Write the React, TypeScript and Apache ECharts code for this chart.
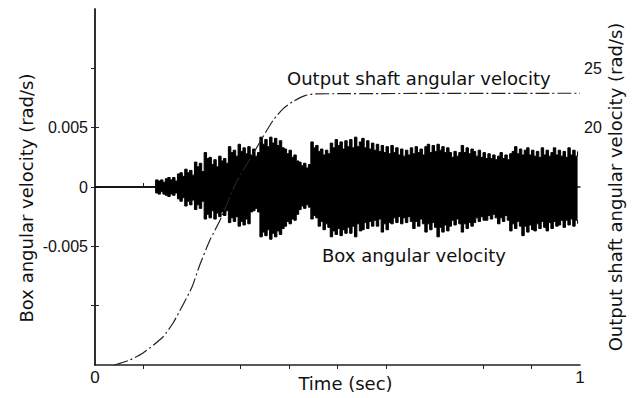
import React, { useEffect, useRef } from "react";
import * as echarts from "echarts";

// Box angular velocity (rad/s): oscillation envelope read every 0.005 s from t = 0.125 s
const BOX_T0 = 0.125;
const BOX_DT = 0.005;
const boxUpper = [
  0.0006, 0.0005, 0.0006, 0.0004, 0.0007, 0.0008, 0.0006, 0.0008, 0.0005, 0.0011,
  0.0012, 0.0009, 0.0015, 0.0012, 0.0014, 0.0010, 0.0021, 0.0017, 0.0020, 0.0013,
  0.0029, 0.0024, 0.0025, 0.0019, 0.0023, 0.0017, 0.0026, 0.0022, 0.0024, 0.0020,
  0.0034, 0.0029, 0.0031, 0.0026, 0.0036, 0.0030, 0.0033, 0.0028, 0.0034, 0.0027,
  0.0032, 0.0026, 0.0029, 0.0042, 0.0036, 0.0040, 0.0034, 0.0042, 0.0037, 0.0041,
  0.0035, 0.0039, 0.0033, 0.0032, 0.0028, 0.0031, 0.0025, 0.0027, 0.0022, 0.0021,
  0.0018, 0.0020, 0.0016, 0.0019, 0.0038, 0.0033, 0.0035, 0.0030, 0.0032, 0.0027,
  0.0031, 0.0028, 0.0037, 0.0033, 0.0040, 0.0035, 0.0038, 0.0032, 0.0039, 0.0034,
  0.0040, 0.0033, 0.0042, 0.0034, 0.0038, 0.0041, 0.0033, 0.0039, 0.0032, 0.0037,
  0.0031, 0.0036, 0.0030, 0.0035, 0.0029, 0.0034, 0.0028, 0.0035, 0.0029, 0.0033,
  0.0027, 0.0032, 0.0026, 0.0031, 0.0027, 0.0033, 0.0028, 0.0034, 0.0029, 0.0032,
  0.0027, 0.0034, 0.0036, 0.0029, 0.0035, 0.0030, 0.0036, 0.0031, 0.0034, 0.0029,
  0.0033, 0.0029, 0.0025, 0.0030, 0.0026, 0.0029, 0.0035, 0.0029, 0.0033, 0.0028,
  0.0032, 0.0030, 0.0026, 0.0031, 0.0025, 0.0029, 0.0024, 0.0028, 0.0024, 0.0027,
  0.0023, 0.0026, 0.0029, 0.0024, 0.0027, 0.0023, 0.0028, 0.0030, 0.0034, 0.0028,
  0.0032, 0.0027, 0.0031, 0.0033, 0.0027, 0.0031, 0.0026, 0.0030, 0.0025, 0.0033,
  0.0027, 0.0031, 0.0026, 0.0029, 0.0033, 0.0027, 0.0031, 0.0026, 0.0030, 0.0025,
  0.0033, 0.0027, 0.0031, 0.0026, 0.0030,
];
const boxLower = [
  -0.0005, -0.0006, -0.0004, -0.0006, -0.0007, -0.0008, -0.0006, -0.0007, -0.0005, -0.0010,
  -0.0012, -0.0009, -0.0016, -0.0012, -0.0015, -0.0011, -0.0019, -0.0015, -0.0018, -0.0012,
  -0.0027, -0.0023, -0.0026, -0.0020, -0.0027, -0.0022, -0.0025, -0.0021, -0.0024, -0.0020,
  -0.0030, -0.0026, -0.0029, -0.0025, -0.0033, -0.0029, -0.0032, -0.0027, -0.0031, -0.0021,
  -0.0020, -0.0018, -0.0021, -0.0042, -0.0038, -0.0041, -0.0036, -0.0044, -0.0039, -0.0042,
  -0.0037, -0.0040, -0.0035, -0.0033, -0.0029, -0.0031, -0.0027, -0.0028, -0.0023, -0.0019,
  -0.0016, -0.0018, -0.0015, -0.0017, -0.0027, -0.0024, -0.0026, -0.0033, -0.0029, -0.0036,
  -0.0031, -0.0034, -0.0042, -0.0037, -0.0040, -0.0035, -0.0041, -0.0036, -0.0039, -0.0034,
  -0.0039, -0.0033, -0.0042, -0.0031, -0.0037, -0.0036, -0.0030, -0.0035, -0.0029, -0.0033,
  -0.0028, -0.0033, -0.0027, -0.0038, -0.0031, -0.0036, -0.0030, -0.0031, -0.0026, -0.0030,
  -0.0025, -0.0031, -0.0026, -0.0030, -0.0025, -0.0029, -0.0035, -0.0029, -0.0033, -0.0027,
  -0.0031, -0.0038, -0.0031, -0.0036, -0.0030, -0.0034, -0.0042, -0.0034, -0.0038, -0.0032,
  -0.0037, -0.0033, -0.0028, -0.0032, -0.0027, -0.0031, -0.0038, -0.0031, -0.0035, -0.0030,
  -0.0033, -0.0030, -0.0026, -0.0029, -0.0025, -0.0028, -0.0028, -0.0024, -0.0027, -0.0023,
  -0.0026, -0.0031, -0.0026, -0.0029, -0.0024, -0.0028, -0.0037, -0.0031, -0.0035, -0.0029,
  -0.0033, -0.0041, -0.0033, -0.0038, -0.0032, -0.0036, -0.0037, -0.0031, -0.0035, -0.0029,
  -0.0034, -0.0037, -0.0030, -0.0035, -0.0029, -0.0033, -0.0032, -0.0028, -0.0034, -0.0028,
  -0.0032, -0.0027, -0.0033, -0.0028, -0.0031,
];

// Output shaft angular velocity (rad/s)
const shaftTime = [0.04, 0.047, 0.072, 0.099, 0.14, 0.161, 0.179, 0.2, 0.216, 0.237, 0.258, 0.29, 0.326, 0.346, 0.367, 0.388, 0.408, 0.433, 0.454, 1.0];
const shaftValue = [0, 0.08, 0.42, 1.01, 2.36, 3.54, 4.89, 6.57, 8.43, 10.53, 12.22, 15.3, 17.8, 19.2, 20.6, 21.6, 22.2, 22.7, 22.85, 22.9];

// Axis ticks and labels
const timeTicks = [0.1, 0.3, 0.4, 0.5, 0.6, 0.8, 0.9];
const timeLabels = [0, 1];
const boxTicks = [-0.01, -0.005, 0, 0.005];
const boxLabels = [-0.005, 0, 0.005];
const shaftTicks = [5, 10, 15, 20, 25];
const shaftLabels = [20, 25];

const TEXT_FONT = "DejaVu Sans";
const NUM_FONT = "Liberation Sans";
const INK = "#111";

export default function App() {
  const ref = useRef<HTMLDivElement>(null);

  useEffect(() => {
    if (!ref.current) return;
    const chart = echarts.init(ref.current, undefined, { renderer: "svg" });

    const boxTimes = boxUpper.map((_, i) => +(BOX_T0 + i * BOX_DT).toFixed(3));
    const upperData = [[0, 0], ...boxTimes.map((t, i) => [t, boxUpper[i]])];
    const lowerData = [[0, 0], ...boxTimes.map((t, i) => [t, boxLower[i]])];
    const shaftData = shaftTime.map((t, i) => [t, shaftValue[i]]);

    const axisLine = { show: true, lineStyle: { color: "#222", width: 1.5 } };

    chart.setOption({
      animation: false,
      backgroundColor: "#fff",
      grid: { left: 95, right: 54, top: 9, bottom: 33, containLabel: false, outerBoundsMode: "none" },
      xAxis: [
        {
          type: "value",
          min: 0,
          max: 1,
          interval: 0.1,
          position: "bottom",
          axisLine,
          axisTick: { show: true, inside: true, length: 4, customValues: timeTicks, lineStyle: { color: "#222" } },
          axisLabel: {
            customValues: timeLabels,
            formatter: (v: number) => (timeLabels.includes(v) ? String(v) : ""),
            fontFamily: NUM_FONT,
            fontSize: 17,
            color: INK,
            margin: 4,
          },
          splitLine: { show: false },
          name: "Time (sec)",
          nameLocation: "middle",
          nameGap: 9,
          nameMoveOverlap: false,
          nameTextStyle: { fontFamily: TEXT_FONT, fontSize: 18, color: INK, padding: [0, 0, 0, 16] },
        },
        {
          type: "value",
          min: 0,
          max: 1,
          interval: 0.1,
          position: "top",
          axisLine,
          axisTick: { show: true, inside: true, length: 4, customValues: timeTicks, lineStyle: { color: "#222" } },
          axisLabel: { show: false },
          splitLine: { show: false },
        },
      ],
      yAxis: [
        {
          type: "value",
          min: -0.015,
          max: 0.015,
          interval: 0.005,
          position: "left",
          axisLine,
          axisTick: { show: true, inside: true, length: 4, customValues: boxTicks, lineStyle: { color: "#222" } },
          axisLabel: {
            customValues: boxLabels,
            formatter: (v: number) => (boxLabels.some((b) => Math.abs(b - v) < 1e-9) ? String(v) : ""),
            fontFamily: NUM_FONT,
            fontSize: 16,
            color: INK,
            margin: 7,
          },
          splitLine: { show: false },
          name: "Box angular velocity (rad/s)",
          nameLocation: "middle",
          nameRotate: 90,
          nameGap: 60,
          nameMoveOverlap: false,
          nameTextStyle: { fontFamily: TEXT_FONT, fontSize: 18, color: INK, padding: [0, 22, 0, 0] },
        },
        {
          type: "value",
          min: 0,
          max: 30,
          interval: 5,
          position: "right",
          axisLine,
          axisTick: { show: true, inside: true, length: 4, customValues: shaftTicks, lineStyle: { color: "#222" } },
          axisLabel: {
            customValues: shaftLabels,
            formatter: (v: number) => (shaftLabels.includes(v) ? String(v) : ""),
            fontFamily: NUM_FONT,
            fontSize: 16,
            color: INK,
            margin: 4,
          },
          splitLine: { show: false },
          name: "Output shaft angular velocity (rad/s)",
          nameLocation: "middle",
          nameRotate: 90,
          nameGap: 26,
          nameMoveOverlap: false,
          nameTextStyle: { fontFamily: TEXT_FONT, fontSize: 18, color: INK },
        },
      ],
      series: [
        {
          name: "Box angular velocity",
          type: "line",
          xAxisIndex: 0,
          yAxisIndex: 0,
          step: "end",
          symbol: "none",
          data: upperData,
          lineStyle: { color: "#000", width: 1 },
          areaStyle: { color: "#000", opacity: 1 },
          z: 2,
        },
        {
          name: "Box angular velocity (lower)",
          type: "line",
          xAxisIndex: 0,
          yAxisIndex: 0,
          step: "end",
          symbol: "none",
          data: lowerData,
          lineStyle: { color: "#000", width: 1 },
          areaStyle: { color: "#000", opacity: 1 },
          z: 2,
        },
        {
          name: "Output shaft angular velocity",
          type: "line",
          xAxisIndex: 0,
          yAxisIndex: 1,
          symbol: "none",
          smooth: 0.2,
          data: shaftData,
          lineStyle: { color: "#222", width: 1.2, type: [14, 3, 2, 3] },
          z: 3,
        },
      ],
      graphic: [
        {
          type: "text",
          x: 287,
          y: 78,
          style: {
            text: "Output shaft angular velocity",
            fontFamily: TEXT_FONT,
            fontSize: 18,
            fill: INK,
            verticalAlign: "middle",
          },
        },
        {
          type: "text",
          x: 322,
          y: 255,
          style: {
            text: "Box angular velocity",
            fontFamily: TEXT_FONT,
            fontSize: 18,
            fill: INK,
            verticalAlign: "middle",
          },
        },
      ],
    });

    return () => chart.dispose();
  }, []);

  return (
    <div
      ref={ref}
      style={{ position: "fixed", left: 0, top: 0, width: 634, height: 398, background: "#fff" }}
    />
  );
}
